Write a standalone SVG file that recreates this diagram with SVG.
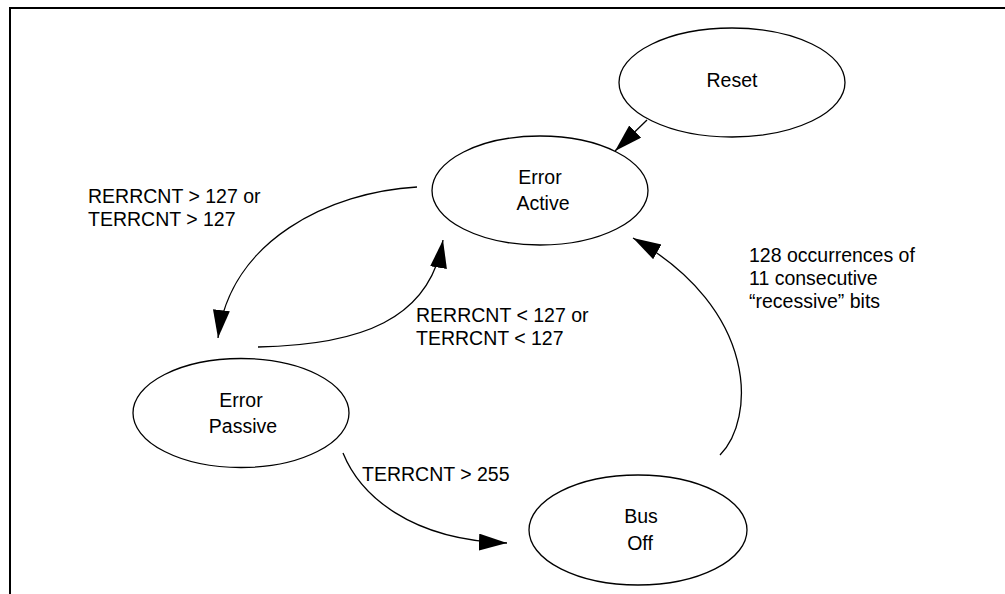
<svg xmlns="http://www.w3.org/2000/svg" width="1005" height="594" viewBox="0 0 1005 594">
<defs>
<style>
.node ellipse{fill:#fff;stroke:#000;stroke-width:1.3}
.node text{font-family:"Liberation Sans",Arial,sans-serif;font-size:19.5px;fill:#000;text-anchor:middle}
.lbl{font-family:"Liberation Sans",Arial,sans-serif;font-size:19.5px;fill:#000}
.conn{fill:none;stroke:#000;stroke-width:1.3}
</style>
<marker id="ah" markerUnits="userSpaceOnUse" markerWidth="30" markerHeight="18" refX="28" refY="8.5" orient="auto">
<path d="M0,0 L28,8.5 L0,17 Z" fill="#000"/>
</marker>
</defs>
<rect x="0" y="0" width="1005" height="594" fill="#fff"/>
<path d="M10,594 V8 H1005" fill="none" stroke="#000" stroke-width="2"/>
<g id="connectors">
<path class="conn" d="M647,120 L615,151" marker-end="url(#ah)"/>
<path class="conn" d="M417,187 C330,192 230,240 218,338" marker-end="url(#ah)"/>
<path class="conn" d="M258,347 C360,345 430,320 443,240" marker-end="url(#ah)"/>
<path class="conn" d="M343,453 C360,495 410,540 507,543" marker-end="url(#ah)"/>
<path class="conn" d="M720,455 C755,420 760,310 633,238" marker-end="url(#ah)"/>
</g>
<g id="labels">
<text class="lbl" x="88" y="203">RERRCNT &gt; 127 or</text>
<text class="lbl" x="88" y="226">TERRCNT &gt; 127</text>
<text class="lbl" x="416" y="322">RERRCNT &lt; 127 or</text>
<text class="lbl" x="416" y="345">TERRCNT &lt; 127</text>
<text class="lbl" x="362" y="481">TERRCNT &gt; 255</text>
<text class="lbl" x="749" y="262">128 occurrences of</text>
<text class="lbl" x="749" y="285">11 consecutive</text>
<text class="lbl" x="749" y="308">“recessive” bits</text>
</g>
<g id="reset" class="node">
<ellipse cx="732" cy="82.5" rx="113" ry="54.5"/>
<text x="732" y="87">Reset</text>
</g>
<g id="error-active" class="node">
<ellipse cx="540" cy="190.5" rx="108" ry="54.5"/>
<text x="540" y="184">Error</text>
<text x="543" y="210">Active</text>
</g>
<g id="error-passive" class="node">
<ellipse cx="241" cy="413" rx="108" ry="54.5"/>
<text x="241" y="407">Error</text>
<text x="243" y="433">Passive</text>
</g>
<g id="bus-off" class="node">
<ellipse cx="638" cy="530" rx="109" ry="55"/>
<text x="641" y="523">Bus</text>
<text x="640" y="550">Off</text>
</g>
</svg>
